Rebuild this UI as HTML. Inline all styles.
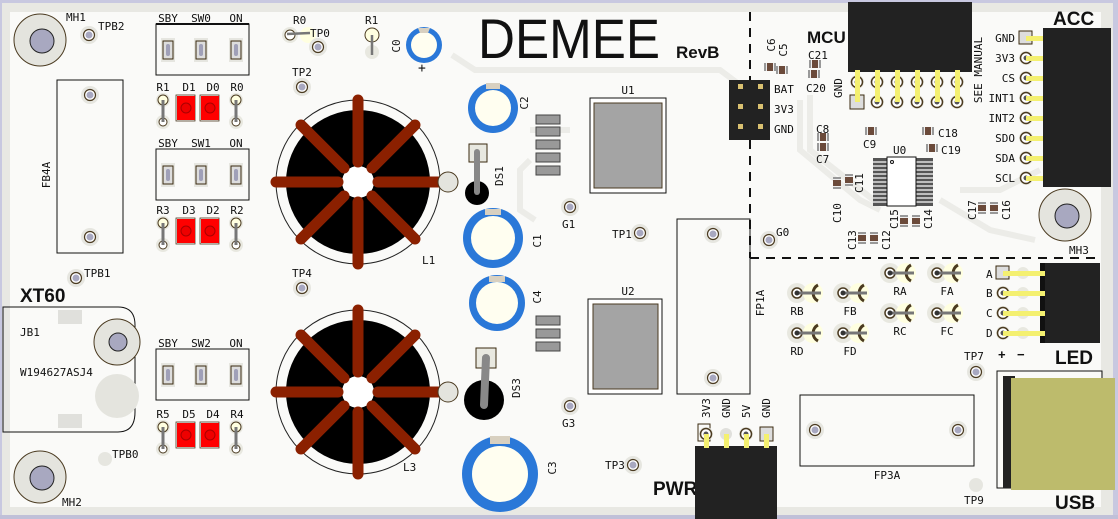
<!DOCTYPE html>
<html><head><meta charset="utf-8"><style>
html,body{margin:0;padding:0;background:#c8c8e0;}
svg{display:block}
text{font-family:"DejaVu Sans Mono","Liberation Mono",monospace;fill:#111;font-size:11px}
.b{font-family:"Liberation Sans",sans-serif;font-weight:bold}
</style></head><body>
<svg width="1118" height="519" viewBox="0 0 1118 519" xmlns="http://www.w3.org/2000/svg">
<defs>
<g id="tp"><circle r="9" fill="#e6e6e0"/><circle r="5.5" fill="#fff" stroke="#4a3a20" stroke-width="1.2"/><circle r="3.5" fill="#a8a8c0"/></g>
<g id="sp"><rect x="-7" y="-12" width="14" height="24" fill="#e6e6e0"/><rect x="-5" y="-9" width="10" height="18" fill="#ddd" stroke="#3a2a10"/><rect x="-2" y="-6" width="4" height="12" rx="2" fill="#a0a0b8"/></g>
<g id="res"><circle cy="0" r="7" fill="#e8e8e0"/><circle cy="22" r="7" fill="#e8e8e0"/><circle r="5" fill="#ffffe0" stroke="#4a3a20"/><circle cy="22" r="4" fill="#fff" stroke="#4a3a20"/><line x1="0" y1="0" x2="0" y2="22" stroke="#777" stroke-width="3"/></g>
<g id="led"><rect x="-10" y="-2" width="19" height="26" fill="none" stroke="#4a3a20" stroke-width="0.8"/><rect x="-9" y="-1" width="18" height="24" fill="#f00"/><circle cy="11" r="5" fill="#e00" stroke="#a00"/></g>
<g id="rd"><circle r="10" fill="#e8e8e0"/><circle cx="16" r="10" fill="#ffffe0"/><circle r="5" fill="#fff" stroke="#4a3a20" stroke-width="1.5"/><path d="M21,-8 A9,9 0 0 0 21,8" stroke="#4a3a20" stroke-width="3" fill="none"/><line x1="0" y1="0" x2="24" y2="0" stroke="#777" stroke-width="3"/><circle r="2.5" fill="#333"/></g>
<g id="tor">
<circle r="82" fill="none" stroke="#222" stroke-width="1"/>
<circle r="72" fill="#000"/>
<circle r="16" fill="#fff"/>
<g stroke="#8b2000" stroke-width="11" stroke-linecap="round">
<line x1="0" y1="-20" x2="0" y2="-82"/><line x1="0" y1="20" x2="0" y2="82"/>
<line x1="-20" y1="0" x2="-82" y2="0"/><line x1="20" y1="0" x2="82" y2="0"/>
<line x1="14" y1="-14" x2="57" y2="-57"/><line x1="-14" y1="-14" x2="-57" y2="-57"/>
<line x1="14" y1="14" x2="57" y2="57"/><line x1="-14" y1="14" x2="-57" y2="57"/></g>
</g>
<g id="pin"><circle r="7" fill="#e8e8e0"/><circle r="5.5" fill="#fff" stroke="#4a3a20" stroke-width="1.5"/><circle r="2.5" fill="#555"/></g>
<g id="cap"><rect x="-6" y="-4" width="12" height="8" fill="#eee"/><rect x="-3" y="-4" width="6" height="8" fill="#6b4a3a"/><rect x="-6" y="-4" width="2" height="8" fill="#999"/><rect x="4" y="-4" width="2" height="8" fill="#999"/></g>
</defs>
<rect x="2" y="3" width="1111" height="512" fill="#e8e8e3"/>
<rect x="10" y="12" width="1091" height="495" fill="#fafaf8"/>
<rect x="0" y="515" width="1118" height="4" fill="#c0c0d8"/>
<g stroke="#ecece8" stroke-width="6" fill="none">
<path d="M452,55 L475,70 L720,70 L740,85"/>
<path d="M530,130 L570,130 M530,160 L520,170 L520,210 L535,220"/>
<path d="M770,115 L730,115"/>
<path d="M800,100 L800,150 L860,200 L880,210 M810,95 L810,150 L880,205"/>
<path d="M960,190 L1000,190 L1040,170 M940,200 L990,230 L1035,240"/>
</g>
<line x1="750" y1="12" x2="750" y2="258" stroke="#111" stroke-width="2" stroke-dasharray="9,7"/>
<line x1="750" y1="258" x2="1100" y2="258" stroke="#111" stroke-width="2" stroke-dasharray="9,7"/>
<g><circle cx="40" cy="40" r="26" fill="#e4e4de" stroke="#4a3a20"/><circle cx="42" cy="41" r="12" fill="#a8a8c0" stroke="#222" stroke-width="1"/></g>
<g><circle cx="40" cy="477" r="26" fill="#e4e4de" stroke="#4a3a20"/><circle cx="42" cy="478" r="12" fill="#a8a8c0" stroke="#222" stroke-width="1"/></g>
<g><circle cx="1065" cy="215" r="26" fill="#e4e4de" stroke="#4a3a20"/><circle cx="1067" cy="216" r="12" fill="#a8a8c0" stroke="#222" stroke-width="1"/></g>
<text x="66" y="21">MH1</text><text x="62" y="506">MH2</text><text x="1069" y="254">MH3</text>
<use href="#tp" x="89" y="35"/><text x="98" y="30">TPB2</text>
<use href="#tp" x="76" y="278"/><text x="84" y="277">TPB1</text>
<circle cx="105" cy="459" r="7" fill="#e6e6e0"/><text x="112" y="458">TPB0</text>
<rect x="57" y="80" width="66" height="173" fill="none" stroke="#111"/>
<use href="#tp" x="90" y="95"/><use href="#tp" x="90" y="237"/>
<text x="0" y="0" transform="translate(50,175) rotate(-90)" text-anchor="middle">FB4A</text>
<text class="b" x="20" y="302" style="font-size:19px">XT60</text>
<path d="M3,307 L118,307 Q135,307 135,325 L135,412 Q135,432 118,432 L3,432 Z" fill="none" stroke="#111"/>
<rect x="58" y="310" width="24" height="14" fill="#e0e0dc"/><rect x="58" y="414" width="24" height="14" fill="#e0e0dc"/>
<circle cx="117" cy="342" r="23" fill="#e4e4de" stroke="#4a3a20"/><circle cx="118" cy="342" r="9" fill="#a8a8c0" stroke="#222"/>
<circle cx="117" cy="396" r="22" fill="#e4e4de"/>
<text x="20" y="336">JB1</text><text x="20" y="376">W194627ASJ4</text>
<g>
<text x="168" y="22" text-anchor="middle">SBY</text><text x="201" y="22" text-anchor="middle">SW0</text><text x="236" y="22" text-anchor="middle">ON</text>
<rect x="156" y="24" width="93" height="51" fill="none" stroke="#111"/>
<line x1="156" y1="24" x2="249" y2="24" stroke="#111" stroke-width="2"/>
<use href="#sp" x="168" y="50"/><use href="#sp" x="201" y="50"/><use href="#sp" x="236" y="50"/>
</g>
<g transform="translate(0,125)">
<text x="168" y="22" text-anchor="middle">SBY</text><text x="201" y="22" text-anchor="middle">SW1</text><text x="236" y="22" text-anchor="middle">ON</text>
<rect x="156" y="24" width="93" height="51" fill="none" stroke="#111"/>
<use href="#sp" x="168" y="50"/><use href="#sp" x="201" y="50"/><use href="#sp" x="236" y="50"/>
</g>
<g transform="translate(0,325)">
<text x="168" y="22" text-anchor="middle">SBY</text><text x="201" y="22" text-anchor="middle">SW2</text><text x="236" y="22" text-anchor="middle">ON</text>
<rect x="156" y="24" width="93" height="51" fill="none" stroke="#111"/>
<use href="#sp" x="168" y="50"/><use href="#sp" x="201" y="50"/><use href="#sp" x="236" y="50"/>
</g>
<g>
<text x="163" y="91" text-anchor="middle">R1</text><text x="189" y="91" text-anchor="middle">D1</text><text x="213" y="91" text-anchor="middle">D0</text><text x="237" y="91" text-anchor="middle">R0</text>
<use href="#res" x="163" y="100"/><use href="#led" x="186" y="97"/><use href="#led" x="210" y="97"/><use href="#res" x="236" y="100"/>
</g>
<g transform="translate(0,123)">
<text x="163" y="91" text-anchor="middle">R3</text><text x="189" y="91" text-anchor="middle">D3</text><text x="213" y="91" text-anchor="middle">D2</text><text x="237" y="91" text-anchor="middle">R2</text>
<use href="#res" x="163" y="100"/><use href="#led" x="186" y="97"/><use href="#led" x="210" y="97"/><use href="#res" x="236" y="100"/>
</g>
<g transform="translate(0,327)">
<text x="163" y="91" text-anchor="middle">R5</text><text x="189" y="91" text-anchor="middle">D5</text><text x="213" y="91" text-anchor="middle">D4</text><text x="237" y="91" text-anchor="middle">R4</text>
<use href="#res" x="163" y="100"/><use href="#led" x="186" y="97"/><use href="#led" x="210" y="97"/><use href="#res" x="236" y="100"/>
</g>
<text x="293" y="24">R0</text>
<circle cx="290" cy="35" r="8" fill="#e8e8e0"/><circle cx="308" cy="35" r="8" fill="#ffffe0"/><circle cx="290" cy="35" r="5" fill="#fff" stroke="#4a3a20"/><line x1="287" y1="34" x2="310" y2="33" stroke="#777" stroke-width="2.5"/>
<text x="365" y="24">R1</text>
<circle cx="372" cy="35" r="7" fill="#ffffe0" stroke="#4a3a20"/><circle cx="372" cy="52" r="7" fill="#e8e8e0"/><line x1="372" y1="35" x2="372" y2="55" stroke="#777" stroke-width="2.5"/>
<use href="#tp" x="318" y="47"/><text x="310" y="37">TP0</text>
<use href="#tp" x="302" y="87"/><text x="292" y="76">TP2</text>
<use href="#tp" x="302" y="288"/><text x="292" y="277">TP4</text>
<circle cx="424" cy="45" r="18" fill="#2a78d8"/><circle cx="424" cy="45" r="13" fill="#fffef0"/><path d="M418,28 L430,28 L428,33 L420,33Z" fill="#d8d0c0"/>
<text x="0" y="0" transform="translate(400,46) rotate(-90)" text-anchor="middle">C0</text><text x="418" y="72" style="font-size:13px">+</text>
<use href="#tor" x="358" y="182"/><text x="422" y="264">L1</text>
<use href="#tor" x="358" y="392"/><text x="403" y="471">L3</text>
<circle cx="448" cy="182" r="10" fill="#e4e4de" stroke="#4a3a20"/><circle cx="448" cy="392" r="10" fill="#e4e4de" stroke="#4a3a20"/>
<text x="478" y="58" textLength="182" lengthAdjust="spacingAndGlyphs" style="font-family:'Liberation Sans',sans-serif;font-size:56px">DEMEE</text>
<text class="b" x="676" y="58" style="font-size:17px">RevB</text>
<g><circle cx="493" cy="108" r="25" fill="#2a78d8"/><circle cx="493" cy="108" r="18" fill="#fffef0"/><rect x="486" y="83" width="14" height="6" fill="#d8d0c0"/></g><text x="0" y="0" transform="translate(528,103) rotate(-90)" text-anchor="middle">C2</text>
<g><circle cx="493" cy="238" r="30" fill="#2a78d8"/><circle cx="493" cy="238" r="22" fill="#fffef0"/><rect x="485" y="209" width="16" height="6" fill="#d8d0c0"/></g><text x="0" y="0" transform="translate(541,241) rotate(-90)" text-anchor="middle">C1</text>
<g><circle cx="497" cy="303" r="28" fill="#2a78d8"/><circle cx="497" cy="303" r="21" fill="#fffef0"/><rect x="489" y="276" width="16" height="6" fill="#d8d0c0"/></g><text x="0" y="0" transform="translate(541,297) rotate(-90)" text-anchor="middle">C4</text>
<g><circle cx="500" cy="474" r="38" fill="#2a78d8"/><circle cx="500" cy="474" r="28" fill="#fffef0"/><rect x="490" y="436" width="20" height="8" fill="#d8d0c0"/></g><text x="0" y="0" transform="translate(556,468) rotate(-90)" text-anchor="middle">C3</text>
<rect x="469" y="144" width="18" height="18" fill="#e8e8e0" stroke="#3a2a10"/><circle cx="477" cy="193" r="12" fill="#000"/><line x1="477" y1="152" x2="477" y2="192" stroke="#888" stroke-width="6" stroke-linecap="round"/>
<text x="0" y="0" transform="translate(503,176) rotate(-90)" text-anchor="middle">DS1</text>
<rect x="476" y="348" width="20" height="20" fill="#e8e8e0" stroke="#3a2a10"/><circle cx="484" cy="400" r="20" fill="#000"/><line x1="486" y1="358" x2="484" y2="405" stroke="#888" stroke-width="8" stroke-linecap="round"/>
<text x="0" y="0" transform="translate(520,388) rotate(-90)" text-anchor="middle">DS3</text>
<g fill="#999" stroke="#444" stroke-width="1"><rect x="536" y="115" width="24" height="9"/><rect x="536" y="127" width="24" height="9"/><rect x="536" y="140" width="24" height="9"/><rect x="536" y="153" width="24" height="9"/><rect x="536" y="166" width="24" height="9"/>
<rect x="536" y="316" width="24" height="9"/><rect x="536" y="329" width="24" height="9"/><rect x="536" y="342" width="24" height="9"/></g>
<use href="#tp" x="570" y="207"/><text x="562" y="228">G1</text>
<use href="#tp" x="570" y="406"/><text x="562" y="427">G3</text>
<use href="#tp" x="640" y="233"/><text x="612" y="238">TP1</text>
<use href="#tp" x="633" y="465"/><text x="605" y="469">TP3</text>
<text x="628" y="94" text-anchor="middle">U1</text>
<rect x="590" y="98" width="76" height="95" fill="#fff" stroke="#111"/><rect x="594" y="103" width="68" height="85" fill="#a4a4a4" stroke="#4a3a20"/>
<text x="628" y="295" text-anchor="middle">U2</text>
<rect x="588" y="299" width="74" height="95" fill="#fff" stroke="#111"/><rect x="593" y="304" width="65" height="85" fill="#a4a4a4" stroke="#4a3a20"/>
<rect x="677" y="219" width="73" height="175" fill="none" stroke="#111"/>
<use href="#tp" x="713" y="234"/><use href="#tp" x="713" y="378"/>
<text x="0" y="0" transform="translate(764,303) rotate(-90)" text-anchor="middle">FP1A</text>
<use href="#tp" x="769" y="240"/><text x="776" y="236">G0</text>
<rect x="729" y="80" width="41" height="60" fill="#222"/>
<g fill="#d8c070"><rect x="738" y="84" width="5" height="5"/><rect x="758" y="84" width="5" height="5"/><rect x="738" y="104" width="5" height="5"/><rect x="758" y="104" width="5" height="5"/><rect x="738" y="124" width="5" height="5"/><rect x="758" y="124" width="5" height="5"/></g>
<text x="774" y="93">BAT</text><text x="774" y="113">3V3</text><text x="774" y="133">GND</text>
<text class="b" x="807" y="43" style="font-size:17px">MCU</text>
<rect x="848" y="2" width="124" height="70" fill="#222"/>
<g>
<use href="#pin" x="857" y="82"/><use href="#pin" x="877" y="82"/><use href="#pin" x="897" y="82"/><use href="#pin" x="917" y="82"/><use href="#pin" x="937" y="82"/><use href="#pin" x="957" y="82"/>
<rect x="850" y="95" width="14" height="14" fill="#ddd" stroke="#3a2a10"/>
<use href="#pin" x="877" y="102"/><use href="#pin" x="897" y="102"/><use href="#pin" x="917" y="102"/><use href="#pin" x="937" y="102"/><use href="#pin" x="957" y="102"/>
<g fill="#f4f070"><rect x="855" y="70" width="5" height="32"/><rect x="875" y="70" width="5" height="32"/><rect x="895" y="70" width="5" height="32"/><rect x="915" y="70" width="5" height="32"/><rect x="935" y="70" width="5" height="32"/><rect x="955" y="70" width="5" height="32"/></g>
</g>
<text x="0" y="0" transform="translate(842,88) rotate(-90)" text-anchor="middle">GND</text>
<text x="0" y="0" transform="translate(982,70) rotate(-90)" text-anchor="middle">SEE MANUAL</text>
<text x="808" y="59">C21</text><text x="806" y="92">C20</text>
<use href="#cap" x="815" y="64"/><use href="#cap" x="814" y="74"/>
<use href="#cap" x="770" y="67"/><use href="#cap" x="782" y="70"/>
<text x="0" y="0" transform="translate(775,45) rotate(-90)" text-anchor="middle">C6</text>
<text x="0" y="0" transform="translate(787,50) rotate(-90)" text-anchor="middle">C5</text>
<text x="816" y="133">C8</text><use href="#cap" x="823" y="137"/><use href="#cap" x="823" y="147"/><text x="816" y="163">C7</text>
<use href="#cap" x="871" y="131"/><text x="863" y="148">C9</text>
<use href="#cap" x="928" y="131"/><text x="938" y="137">C18</text>
<use href="#cap" x="932" y="148"/><text x="941" y="154">C19</text>
<text x="893" y="154">U0</text>
<rect x="873" y="158" width="60" height="48" fill="#555"/>
<g stroke="#e0e0e0" stroke-width="1.5"><line x1="873" y1="162" x2="933" y2="162"/><line x1="873" y1="166" x2="933" y2="166"/><line x1="873" y1="170" x2="933" y2="170"/><line x1="873" y1="174" x2="933" y2="174"/><line x1="873" y1="178" x2="933" y2="178"/><line x1="873" y1="182" x2="933" y2="182"/><line x1="873" y1="186" x2="933" y2="186"/><line x1="873" y1="190" x2="933" y2="190"/><line x1="873" y1="194" x2="933" y2="194"/><line x1="873" y1="198" x2="933" y2="198"/><line x1="873" y1="202" x2="933" y2="202"/></g>
<rect x="887" y="157" width="29" height="49" fill="#fff" stroke="#111"/><circle cx="892" cy="162" r="1.5" fill="none" stroke="#111"/>
<g transform="translate(837,183) rotate(90)"><use href="#cap"/></g><g transform="translate(849,180) rotate(90)"><use href="#cap"/></g>
<text x="0" y="0" transform="translate(841,213) rotate(-90)" text-anchor="middle">C10</text>
<text x="0" y="0" transform="translate(863,183) rotate(-90)" text-anchor="middle">C11</text>
<g transform="translate(904,221) rotate(90)"><use href="#cap"/></g><g transform="translate(916,221) rotate(90)"><use href="#cap"/></g>
<text x="0" y="0" transform="translate(898,219) rotate(-90)" text-anchor="middle">C15</text>
<text x="0" y="0" transform="translate(932,219) rotate(-90)" text-anchor="middle">C14</text>
<g transform="translate(862,238) rotate(90)"><use href="#cap"/></g><g transform="translate(874,238) rotate(90)"><use href="#cap"/></g>
<text x="0" y="0" transform="translate(856,240) rotate(-90)" text-anchor="middle">C13</text>
<text x="0" y="0" transform="translate(890,240) rotate(-90)" text-anchor="middle">C12</text>
<g transform="translate(982,208) rotate(90)"><use href="#cap"/></g><g transform="translate(994,208) rotate(90)"><use href="#cap"/></g>
<text x="0" y="0" transform="translate(976,210) rotate(-90)" text-anchor="middle">C17</text>
<text x="0" y="0" transform="translate(1010,210) rotate(-90)" text-anchor="middle">C16</text>
<text class="b" x="1053" y="25" style="font-size:19px">ACC</text>
<rect x="1043" y="28" width="68" height="159" fill="#222"/>
<g>
<text x="1015" y="42" text-anchor="end">GND</text><text x="1015" y="62" text-anchor="end">3V3</text><text x="1015" y="82" text-anchor="end">CS</text><text x="1015" y="102" text-anchor="end">INT1</text><text x="1015" y="122" text-anchor="end">INT2</text><text x="1015" y="142" text-anchor="end">SDO</text><text x="1015" y="162" text-anchor="end">SDA</text><text x="1015" y="182" text-anchor="end">SCL</text>
<rect x="1019" y="31" width="13" height="13" fill="#ddd" stroke="#3a2a10"/>
<use href="#pin" x="1026" y="58"/><use href="#pin" x="1026" y="78"/><use href="#pin" x="1026" y="98"/><use href="#pin" x="1026" y="118"/><use href="#pin" x="1026" y="138"/><use href="#pin" x="1026" y="158"/><use href="#pin" x="1026" y="178"/>
<g fill="#f4f070"><rect x="1026" y="36" width="17" height="5"/><rect x="1026" y="56" width="17" height="5"/><rect x="1026" y="76" width="17" height="5"/><rect x="1026" y="96" width="17" height="5"/><rect x="1026" y="116" width="17" height="5"/><rect x="1026" y="136" width="17" height="5"/><rect x="1026" y="156" width="17" height="5"/><rect x="1026" y="176" width="17" height="5"/></g>
</g>
<use href="#rd" x="797" y="293"/><text x="797" y="315" text-anchor="middle">RB</text>
<use href="#rd" x="843" y="293"/><text x="850" y="315" text-anchor="middle">FB</text>
<use href="#rd" x="797" y="333"/><text x="797" y="355" text-anchor="middle">RD</text>
<use href="#rd" x="843" y="333"/><text x="850" y="355" text-anchor="middle">FD</text>
<use href="#rd" x="890" y="273"/><text x="900" y="295" text-anchor="middle">RA</text>
<use href="#rd" x="937" y="273"/><text x="947" y="295" text-anchor="middle">FA</text>
<use href="#rd" x="890" y="313"/><text x="900" y="335" text-anchor="middle">RC</text>
<use href="#rd" x="937" y="313"/><text x="947" y="335" text-anchor="middle">FC</text>
<rect x="1045" y="263" width="55" height="80" fill="#222"/>
<rect x="1040" y="263" width="5" height="80" fill="#111"/>
<text x="986" y="278">A</text><text x="986" y="297">B</text><text x="986" y="317">C</text><text x="986" y="337">D</text>
<rect x="996" y="266" width="13" height="13" fill="#ddd" stroke="#3a2a10"/>
<use href="#pin" x="1003" y="293"/><use href="#pin" x="1003" y="313"/><use href="#pin" x="1003" y="333"/>
<circle cx="1023" cy="273" r="6" fill="#e8e8e0"/><circle cx="1023" cy="293" r="6" fill="#e8e8e0"/><circle cx="1023" cy="313" r="6" fill="#e8e8e0"/><circle cx="1023" cy="333" r="6" fill="#e8e8e0"/>
<g fill="#f4f070"><rect x="1003" y="271" width="42" height="5"/><rect x="1003" y="291" width="42" height="5"/><rect x="1003" y="311" width="42" height="5"/><rect x="1003" y="331" width="42" height="5"/></g>
<text class="b" x="998" y="359" style="font-size:13px">+</text><text class="b" x="1017" y="359" style="font-size:13px">−</text>
<text class="b" x="1055" y="364" style="font-size:19px">LED</text>
<use href="#tp" x="976" y="372"/><text x="964" y="360">TP7</text>
<circle cx="976" cy="485" r="7" fill="#e6e6e0"/><text x="964" y="504">TP9</text>
<rect x="997" y="371" width="105" height="117" fill="none" stroke="#111"/>
<rect x="1003" y="376" width="12" height="112" fill="#222"/>
<rect x="1011" y="378" width="104" height="112" fill="#bdbb6c"/>
<text class="b" x="1055" y="509" style="font-size:19px">USB</text>
<rect x="800" y="395" width="174" height="71" fill="none" stroke="#111"/>
<use href="#tp" x="815" y="430"/><use href="#tp" x="958" y="430"/>
<text x="887" y="479" text-anchor="middle">FP3A</text>
<text class="b" x="653" y="495" style="font-size:19px">PWR</text>
<rect x="695" y="446" width="82" height="73" fill="#222"/>
<rect x="698" y="424" width="12" height="17" fill="none" stroke="#3a2a10"/>
<use href="#pin" x="706" y="434"/><circle cx="726" cy="434" r="6" fill="#e0e0dc"/><use href="#pin" x="746" y="434"/><rect x="760" y="427" width="13" height="14" fill="#ddd" stroke="#3a2a10"/>
<g fill="#f4f070"><rect x="704" y="434" width="5" height="14"/><rect x="724" y="434" width="5" height="14"/><rect x="744" y="434" width="5" height="14"/><rect x="764" y="434" width="5" height="14"/></g>
<text x="0" y="0" transform="translate(710,418) rotate(-90)">3V3</text>
<text x="0" y="0" transform="translate(730,418) rotate(-90)">GND</text>
<text x="0" y="0" transform="translate(750,418) rotate(-90)">5V</text>
<text x="0" y="0" transform="translate(770,418) rotate(-90)">GND</text>
</svg>
</body></html>
